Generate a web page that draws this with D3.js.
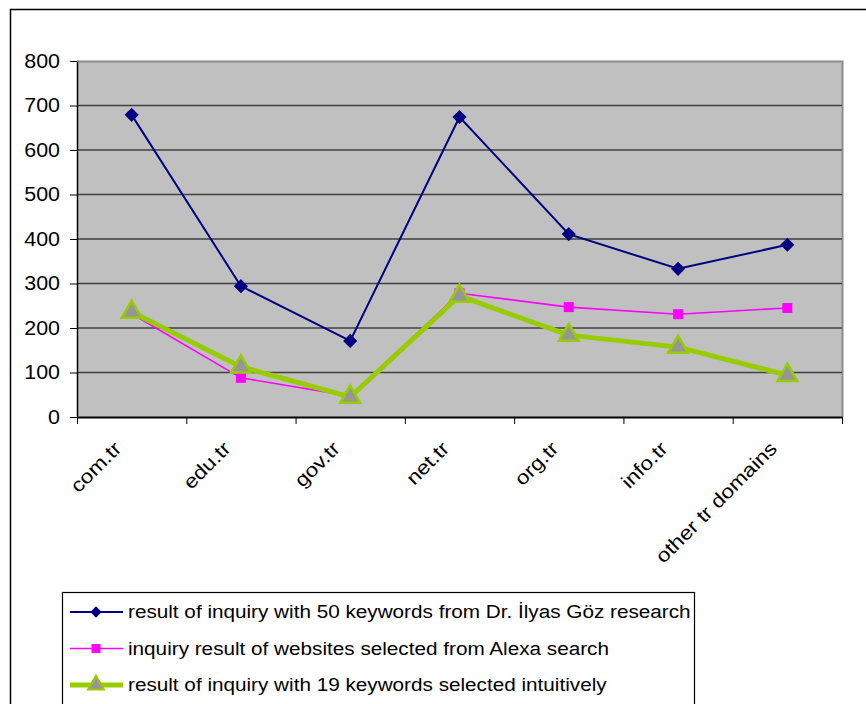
<!DOCTYPE html>
<html>
<head>
<meta charset="utf-8">
<script src="https://cdn.jsdelivr.net/npm/d3@7"></script>
<style>
  body { margin: 0; background: #fff; }
  text { font-family: "Liberation Sans", Arial, sans-serif; fill: #000; }
</style>
</head>
<body>
<script>
// domains on the x axis
var categories = ["com.tr", "edu.tr", "gov.tr", "net.tr", "org.tr", "info.tr", "other tr domains"];
// the three series
var gozValues = [679, 294, 171, 674, 411, 333, 387];
var alexaValues = [232, 88, 47, 278, 247, 231, 245];
var intuitiveValues = [236, 113, 45, 272, 184, 157, 94];
var yTicks = [0, 100, 200, 300, 400, 500, 600, 700, 800];
var seriesNames = [
    "result of inquiry with 50 keywords from Dr. \u0130lyas G\u00f6z research",
    "inquiry result of websites selected from Alexa search",
    "result of inquiry with 19 keywords selected intuitively"
];

var W = 866, H = 704;
var plot = {l: 77, t: 61, r: 842, b: 417};

var svg = d3.select("body").append("svg")
    .attr("width", W).attr("height", H);

// outer chart frame, runs past the right and bottom edges
svg.append("rect")
    .attr("x", 10.5).attr("y", 9.5).attr("width", 900).attr("height", 800)
    .attr("fill", "none").attr("stroke", "#000").attr("stroke-width", 1.5);

var x = d3.scaleBand().domain(categories).range([plot.l, plot.r]).paddingInner(0).paddingOuter(0);
var xc = function (d) { return x(d) + x.bandwidth() / 2; };
var xEdge = d3.scaleLinear().domain([0, categories.length]).range([plot.l, plot.r]);
var y = d3.scaleLinear().domain([0, 800]).range([plot.b, plot.t]);

// widen text a little, like the original rendering
function widen(sel, k) {
    sel.each(function () {
        var len = this.getComputedTextLength();
        d3.select(this).attr("textLength", len * k).attr("lengthAdjust", "spacingAndGlyphs");
    });
}

// plot area
svg.append("rect")
    .attr("x", plot.l).attr("y", plot.t)
    .attr("width", plot.r - plot.l).attr("height", plot.b - plot.t)
    .attr("fill", "#c0c0c0");
svg.append("path")
    .attr("d", "M" + plot.l + "," + (plot.t + 0.5) + "H" + (plot.r + 0.5) + "V" + plot.b)
    .attr("fill", "none").attr("stroke", "#8c8c8c").attr("stroke-width", 2);

// gridlines
svg.append("g").selectAll("line")
    .data(yTicks.filter(function (d) { return d > 0 && d < 800; }))
    .enter().append("line")
    .attr("x1", plot.l).attr("x2", plot.r)
    .attr("y1", function (d) { return y(d); }).attr("y2", function (d) { return y(d); })
    .attr("stroke", "#404040").attr("stroke-width", 1.3);

// y axis
var yAxis = svg.append("g")
    .attr("transform", "translate(" + plot.l + ",0)")
    .call(d3.axisLeft(y).tickValues(yTicks).tickSize(7).tickPadding(10).tickSizeOuter(0));
yAxis.select(".domain").attr("stroke", "#000").attr("stroke-width", 1.5);
yAxis.selectAll(".tick line").attr("stroke", "#000");
yAxis.selectAll("text").attr("font-size", 20).attr("font-family", null);
widen(yAxis.selectAll("text"), 1.07);

// x axis: ticks at category boundaries
var xAxis = svg.append("g")
    .attr("transform", "translate(0," + plot.b + ")")
    .call(d3.axisBottom(xEdge).tickValues(d3.range(categories.length + 1)).tickSize(7).tickFormat("").tickSizeOuter(0));
xAxis.select(".domain").attr("stroke", "#000").attr("stroke-width", 2);
xAxis.selectAll(".tick line").attr("stroke", "#000");

var xLabels = svg.append("g").selectAll("text")
    .data(categories)
    .enter().append("text")
    .attr("transform", function (d) { return "translate(" + (xc(d) - 19) + "," + (plot.b + 23) + ") rotate(-45)"; })
    .attr("text-anchor", "end")
    .attr("dy", "0.71em")
    .attr("font-size", 19.5)
    .text(function (d) { return d; });
widen(xLabels, 1.15);

// series lines
var line = d3.line()
    .x(function (d, i) { return xc(categories[i]); })
    .y(function (d) { return y(d); });

svg.append("path").datum(gozValues)
    .attr("d", line).attr("fill", "none").attr("stroke", "#000080").attr("stroke-width", 2);
svg.append("path").datum(alexaValues)
    .attr("d", line).attr("fill", "none").attr("stroke", "#ff00ff").attr("stroke-width", 1.6);
svg.append("path").datum(intuitiveValues)
    .attr("d", line).attr("fill", "none").attr("stroke", "#99cc00").attr("stroke-width", 5);

var diamond = d3.symbol().type(d3.symbolSquare).size(100);
var square = d3.symbol().type(d3.symbolSquare).size(100);
var triangle = d3.symbol().type(d3.symbolTriangle).size(170);

function markers(values, cls) {
    return svg.append("g").selectAll("path." + cls)
        .data(values).enter().append("path")
        .attr("class", cls)
        .attr("transform", function (d, i) {
            return "translate(" + xc(categories[i]) + "," + y(d) + ")";
        });
}
markers(gozValues, "goz")
    .attr("d", diamond)
    .attr("transform", function (d, i) {
        return "translate(" + xc(categories[i]) + "," + y(d) + ") rotate(45)";
    })
    .attr("fill", "#000080");
markers(alexaValues, "alexa").attr("d", square).attr("fill", "#ff00ff");
markers(intuitiveValues, "intu").attr("d", triangle)
    .attr("fill", "#969696").attr("stroke", "#99cc00").attr("stroke-width", 2.5);

// legend
var legend = svg.append("g");
legend.append("rect")
    .attr("x", 62.5).attr("y", 592.5).attr("width", 632).attr("height", 200)
    .attr("fill", "#fff").attr("stroke", "#000").attr("stroke-width", 1.2);

var legendRows = [
    {name: seriesNames[0], color: "#000080", width: 2, sym: "diamond"},
    {name: seriesNames[1], color: "#ff00ff", width: 1.6, sym: "square"},
    {name: seriesNames[2], color: "#99cc00", width: 5, sym: "triangle"}
];
var rows = legend.selectAll("g.row").data(legendRows).enter().append("g")
    .attr("class", "row")
    .attr("transform", function (d, i) { return "translate(0," + (612 + i * 36.5) + ")"; });
rows.append("line")
    .attr("x1", 70).attr("x2", 123).attr("y1", 0).attr("y2", 0)
    .attr("stroke", function (d) { return d.color; })
    .attr("stroke-width", function (d) { return d.width; });
rows.each(function (d) {
    var g = d3.select(this);
    if (d.sym === "diamond") {
        g.append("path").attr("d", d3.symbol().type(d3.symbolSquare).size(64))
            .attr("transform", "translate(96,0) rotate(45)").attr("fill", d.color);
    } else if (d.sym === "square") {
        g.append("path").attr("d", d3.symbol().type(d3.symbolSquare).size(81))
            .attr("transform", "translate(96,0)").attr("fill", d.color);
    } else {
        g.append("path").attr("d", d3.symbol().type(d3.symbolTriangle).size(110))
            .attr("transform", "translate(96,0)")
            .attr("fill", "#969696").attr("stroke", d.color).attr("stroke-width", 2);
    }
});
var legendText = rows.append("text")
    .attr("x", 128).attr("y", 0).attr("dy", "0.35em")
    .attr("font-size", 18)
    .text(function (d) { return d.name; });
widen(legendText, 1.15);
</script>
</body>
</html>
